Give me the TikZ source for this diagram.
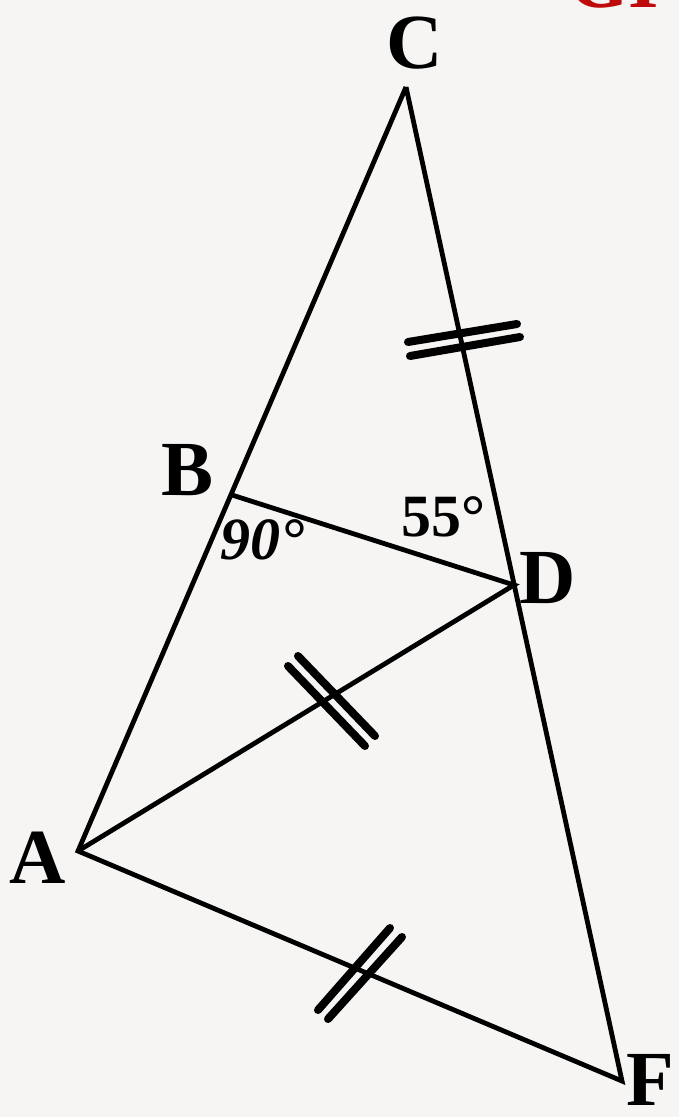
\documentclass[tikz,border=0pt]{standalone}
\usepackage{fontspec}
\setmainfont{Liberation Serif}
\usepackage{tikz}
\usetikzlibrary{calc}
\definecolor{paper}{RGB}{246,245,243}
\definecolor{titlered}{RGB}{190,10,10}

\begin{document}
\begin{tikzpicture}[x=1pt, y=-1pt,
    every node/.style={font=\fontsize{78}{78}\selectfont\bfseries, inner sep=0pt},
    edge/.style={line width=4.8pt, line join=miter},
    tick/.style={line width=8pt, line cap=round}]
    \fill[paper] (0,0) rectangle (679,1117);
    \useasboundingbox (0,0) rectangle (679,1117);
    % vertices
    \coordinate (A) at (78,851);
    \coordinate (B) at (232,495);
    \coordinate (C) at (406,87);
    \coordinate (D) at (514,585);
    \coordinate (F) at (622,1081);
    % sides
    \draw[edge] (C) -- (A) -- (F) -- (C);
    \draw[edge] (B) -- (D) -- (A);
    % equal marks
    \draw[tick] (408,342) -- (517,324);
    \draw[tick] (410,356) -- (520,337);
    \draw[tick] (288,666) -- (365,746);
    \draw[tick] (298,656) -- (375,736);
    \draw[tick] (318,1010) -- (390,928);
    \draw[tick] (328,1019) -- (402,937);
    % labels
    \node (lC) at (415,43) {C};
    \node (lB) at (188,470) {B};
    \node (lD) at (548,578) {D};
    \node (lA) at (38,858) {A};
    \node (lF) at (650,1080) {F};
    \node[font=\fontsize{60}{60}\selectfont\bfseries\itshape] (aB) at (262,540) {90°};
    \node[font=\fontsize{60}{60}\selectfont\bfseries] (aD) at (443,517) {55°};
    \node[anchor=base west, text=titlered] (title) at (568,7) {GI};
  \end{tikzpicture}
\end{document}
